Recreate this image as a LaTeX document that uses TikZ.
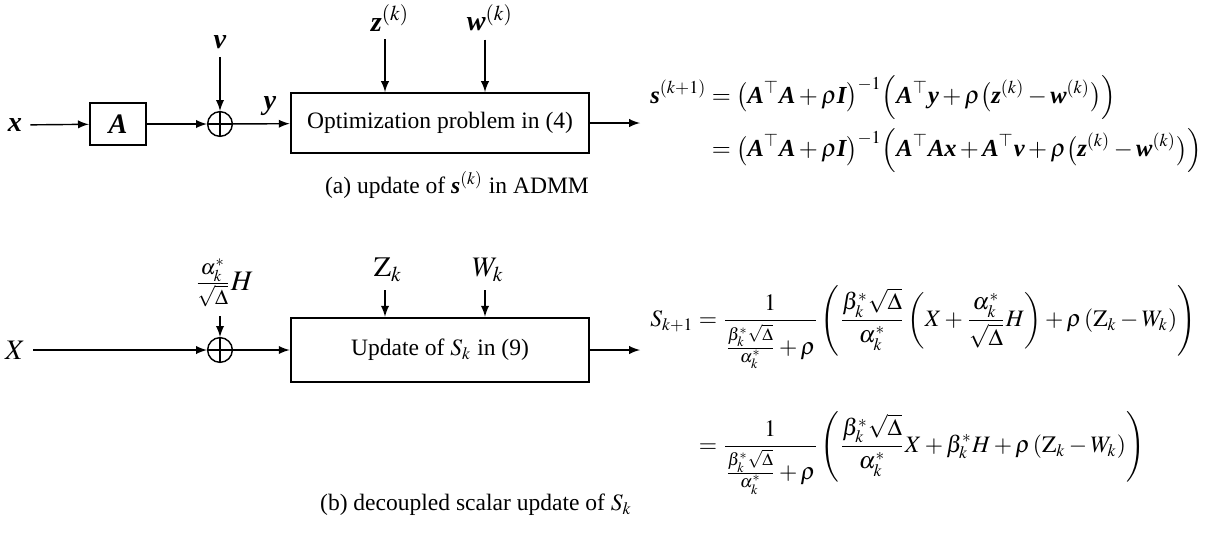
\documentclass[tikz,border=0pt]{standalone}
\usepackage{amsmath}
\usepackage{mathptmx}
\usepackage[no-math]{fontspec}
\setmainfont{Liberation Serif}

\newcommand{\vecb}[1]{\text{\normalfont\bfseries\itshape #1}}

\tikzset{
  blockbox/.style={draw, thick, minimum width=127pt, minimum height=25.5pt, inner sep=2pt},
  sumnode/.style={circle, draw, semithick, minimum size=10.5pt, inner sep=0pt,
    path picture={\draw[semithick] (path picture bounding box.north) -- (path picture bounding box.south)
      (path picture bounding box.west) -- (path picture bounding box.east);}},
  sig/.style={semithick, -latex},
  siglabel/.style={font=\large},
}

\begin{document}
\begin{tikzpicture}[x=0.425pt, y=-0.425pt]
    \useasboundingbox (0,0) rectangle (1210,535);

    % (a) update in ADMM
    \node[siglabel] (inx) at (15,125) {$\vecb{x}$};
    \node[blockbox, minimum width=24pt, minimum height=17.5pt] (matA) at (118,124) {\large$\vecb{A}$};
    \node[sumnode] (sumA) at (220,124) {};
    \node[siglabel] (noisev) at (220,42) {$\vecb{v}$};
    \node[blockbox] (optbox) at (440,123) {Optimization problem in (4)};
    \node[siglabel] (inz) at (390,18) {$\vecb{z}^{(k)}$};
    \node[siglabel] (inw) at (490,18) {$\vecb{w}^{(k)}$};
    \coordinate (outA) at (640,123);

    \draw[sig] (inx) -- (matA);
    \draw[sig] (matA) -- (sumA);
    \draw[sig] (noisev) -- (sumA);
    \draw[sig] (sumA) -- node[siglabel, pos=0.65, above] {$\vecb{y}$} (optbox);
    \draw[sig] (inz.south -| 385,0) -- (385,0 |- optbox.north);
    \draw[sig] (inw.south -| 485,0) -- (485,0 |- optbox.north);
    \draw[sig] (optbox) -- (outA);

    \node[anchor=west, font=\fontsize{10.4}{12.5}\selectfont] (eqA) at (642,124) {$\displaystyle
      \begin{aligned}
        \vecb{s}^{(k+1)} &= \bigl(\vecb{A}^{\top}\vecb{A}+\rho\vecb{I}\bigr)^{-1}\Bigl(\vecb{A}^{\top}\vecb{y}+\rho\bigl(\vecb{z}^{(k)}-\vecb{w}^{(k)}\bigr)\Bigr)\\
        &= \bigl(\vecb{A}^{\top}\vecb{A}+\rho\vecb{I}\bigr)^{-1}\Bigl(\vecb{A}^{\top}\vecb{A}\vecb{x}+\vecb{A}^{\top}\vecb{v}+\rho\bigl(\vecb{z}^{(k)}-\vecb{w}^{(k)}\bigr)\Bigr)
      \end{aligned}$};
    \node (capA) at (457,185) {(a) update of $\vecb{s}^{(k)}$ in ADMM};

    % (b) scalar update
    \node[siglabel] (inX) at (15,350) {$X$};
    \node[sumnode] (sumB) at (220,350) {};
    \node[siglabel] (gainH) at (224,283) {$\frac{\alpha_k^*}{\sqrt{\Delta}}H$};
    \coordinate (gainout) at (220,316);
    \node[blockbox, minimum height=27.5pt] (updbox) at (440,350) {Update of $S_k$ in (9)};
    \node[siglabel] (inZ) at (388,270) {$\mathrm{Z}_k$};
    \node[siglabel] (inW) at (488,270) {$W_k$};
    \coordinate (outB) at (640,350);

    \draw[sig] (inX) -- (sumB);
    \draw[sig] (gainout) -- (sumB);
    \draw[sig] (sumB) -- (updbox);
    \draw[sig] (inZ.south -| 385,0) -- (385,0 |- updbox.north);
    \draw[sig] (inW.south -| 485,0) -- (485,0 |- updbox.north);
    \draw[sig] (updbox) -- (outB);

    \node[anchor=west] (eqB) at (642,390) {$\displaystyle
      \begin{aligned}
        S_{k+1} &= \frac{1}{\frac{\beta_k^*\sqrt{\Delta}}{\alpha_k^*}+\rho}\left(\frac{\beta_k^*\sqrt{\Delta}}{\alpha_k^*}\left(X+\frac{\alpha_k^*}{\sqrt{\Delta}}H\right)+\rho\left(\mathrm{Z}_k-W_k\right)\right)\\[14pt]
        &= \frac{1}{\frac{\beta_k^*\sqrt{\Delta}}{\alpha_k^*}+\rho}\left(\frac{\beta_k^*\sqrt{\Delta}}{\alpha_k^*}X+\beta_k^*H+\rho\left(\mathrm{Z}_k-W_k\right)\right)
      \end{aligned}$};
    \node (capB) at (476,505) {(b) decoupled scalar update of $S_k$};
\end{tikzpicture}
\end{document}
